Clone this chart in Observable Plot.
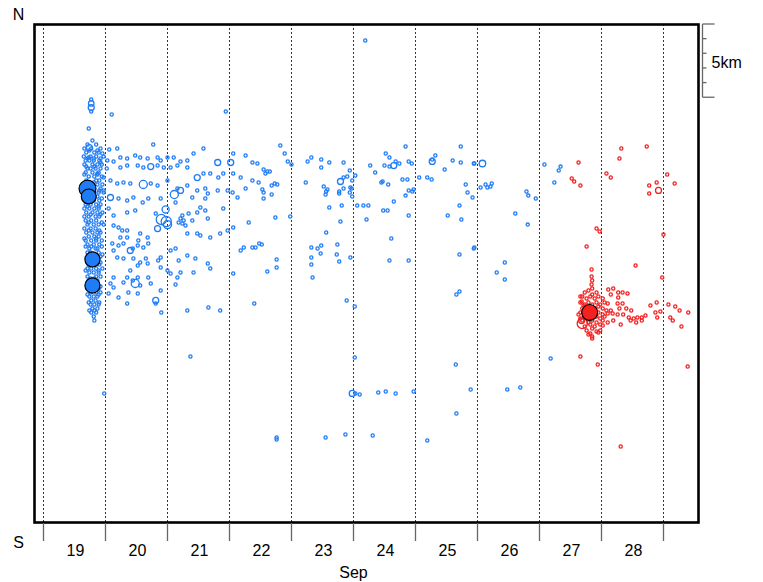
<!DOCTYPE html>
<html><head><meta charset="utf-8">
<script src="https://cdn.jsdelivr.net/npm/d3@7"></script>
<script src="https://cdn.jsdelivr.net/npm/@observablehq/plot@0.6"></script>
<style>body{margin:0;background:#fff;} svg{display:block}</style>
</head><body><div id="chart"></div>
<script>
// x: day of September (fractional), y: km north of the southern edge of the section
const days = [19, 20, 21, 22, 23, 24, 25, 26, 27, 28];
const dayLines = [19, 20, 21, 22, 23, 24, 25, 26, 27, 28, 29];
const monthLabel = "Sep";
const scaleBarKm = [0, 1, 2, 3, 4, 5];
const scaleBarLabel = "5km";

const blueSep19 = [
[19.77,28.88],[19.77,28.06],[19.73,26.90],
[19.79,26.08],[19.71,25.81],[19.85,25.81],[19.66,25.53],[19.77,25.53],[19.92,25.53],
[19.69,25.26],[19.82,25.26],[19.89,25.26],[19.65,24.99],[19.76,24.99],[19.85,24.99],[19.97,24.99],
[19.68,24.71],[19.74,24.71],[19.81,24.71],[19.90,24.71],[19.66,24.44],[19.79,24.44],[19.87,24.44],[19.94,24.44],
[19.71,24.17],[19.76,24.17],[19.84,24.17],[19.92,24.17],[20.02,24.17],[19.68,23.90],[19.79,23.90],[19.89,23.90],
[19.73,23.62],[19.82,23.62],[19.94,23.62],[19.69,23.35],[19.85,23.35],[19.90,23.35],
[19.76,23.08],[19.87,23.08],[19.95,23.08],[19.81,22.80],[19.92,22.80],[19.82,22.53],[19.89,22.53],[19.97,22.53],
[19.79,22.26],[19.87,22.26],[19.71,21.98],[19.81,21.98],[19.90,21.98],
[19.68,21.71],[19.76,21.71],[19.85,21.71],[19.92,21.71],[19.66,21.44],[19.74,21.44],[19.82,21.44],[19.89,21.44],
[19.69,21.16],[19.79,21.16],[19.87,21.16],[19.95,21.16],[19.66,20.89],[19.73,20.89],[19.84,20.89],[19.90,20.89],
[19.68,20.62],[19.77,20.62],[19.85,20.62],[19.71,20.35],[19.81,20.35],[19.89,20.35],[19.97,20.35],
[19.66,20.07],[19.76,20.07],[19.84,20.07],[19.69,19.80],[19.79,19.80],[19.87,19.80],[19.92,19.80],
[19.73,19.53],[19.82,19.53],[19.89,19.53],[19.68,19.25],[19.77,19.25],[19.85,19.25],[19.94,19.25],
[19.71,18.98],[19.81,18.98],[19.90,18.98],[19.74,18.71],[19.84,18.71],[19.87,18.71],
[19.71,18.43],[19.76,18.43],[19.89,18.43],[19.74,18.16],[19.85,18.16],[19.92,18.16],
[19.71,17.89],[19.87,17.89],[19.73,17.61],[19.82,17.61],[19.90,17.61],
[19.71,17.34],[19.77,17.34],[19.85,17.34],[19.95,17.34],[19.74,17.07],[19.81,17.07],[19.89,17.07],
[19.71,16.80],[19.85,16.80],[19.92,16.80],[19.73,16.52],[19.87,16.52],[19.71,16.25],[19.87,16.25],
[19.74,15.98],[19.82,15.98],[19.89,15.98],[19.76,15.70],[19.85,15.70],[19.92,15.70],
[19.74,15.43],[19.81,15.43],[19.87,15.43],[19.77,15.16],[19.84,15.16],
[19.76,14.88],[19.82,14.88],[19.89,14.88],[19.79,14.61],[19.87,14.61],[19.77,14.34],[19.85,14.34],
[19.81,14.06],[19.82,13.79],
[19.74,25.40],[19.87,25.40],[19.71,24.85],[19.92,24.85],[19.69,24.30],[19.82,24.30],[19.66,23.76],[19.87,23.76],
[19.73,23.21],[19.81,23.21],[19.90,22.67],[19.97,22.67],[19.74,22.12],[19.94,22.12],[19.71,21.57],[19.89,21.57],
[19.76,21.03],[19.92,21.03],[19.73,20.48],[19.94,20.48],[19.73,19.94],[19.90,19.94],[19.66,19.39],[19.85,19.39],
[19.68,18.84],[19.77,18.84],[19.94,18.84],[19.82,18.30],[19.95,18.30],[19.77,17.75],[19.92,17.75],
[19.68,17.20],[19.89,17.20],[19.76,16.66],[19.82,16.66],[19.79,16.11],[19.92,16.11],
[19.71,15.57],[19.89,15.57],[19.73,15.02],[19.90,15.02],[19.74,14.47],[19.82,14.47]
];

const blueSep20to22 = [
[20.10,27.86],[21.94,28.06],[20.77,25.81],
[19.73,24.92],[19.81,24.85],[19.95,25.19],[20.06,25.47],[20.19,25.53],[19.92,24.58],[20.03,24.71],[20.13,24.65],
[20.24,24.92],[20.35,24.85],[20.48,25.06],[20.56,24.92],[20.68,24.85],[20.84,24.92],[20.89,24.71],
[21.00,24.92],[21.10,24.92],[21.21,24.65],[21.32,24.71],[21.42,25.19],[21.58,25.53],[22.06,25.19],[22.26,25.06],
[22.37,24.58],[22.45,24.51],[20.24,24.24],[20.35,24.37],[20.52,24.37],[20.61,24.24],[20.84,24.37],[20.94,24.24],
[21.05,24.24],[21.16,24.37],[21.32,24.24],[21.58,23.83],[21.69,23.83],[21.82,23.55],[21.90,23.83],[22.06,23.83],
[22.18,23.55],[22.37,23.35],[22.47,23.21],[19.87,23.83],[19.97,23.55],[20.08,23.35],[20.19,23.14],[20.29,23.21],
[20.40,23.14],[20.73,23.14],[20.84,23.01],[21.00,23.35],[21.16,22.80],[21.32,23.01],[21.48,22.67],[21.61,22.80],
[21.65,22.46],[21.81,22.67],[21.97,22.67],[22.05,22.53],[22.13,22.19],[22.26,22.80],
[20.21,22.12],[20.35,21.98],[20.45,22.19],[20.60,21.85],[20.69,22.12],[20.89,22.12],[21.13,21.85],[21.40,22.19],
[21.61,22.12],[21.90,21.44],[20.05,21.44],[20.13,20.96],[20.35,21.16],[20.48,21.30],[20.81,21.10],
[21.24,20.96],[21.21,20.75],[21.26,20.62],[21.24,20.41],[21.29,20.28],[21.18,20.48],[21.34,21.10],[21.40,20.62],
[21.48,21.16],[21.53,21.51],[21.65,20.75],[21.61,21.30],[20.13,20.28],[20.21,20.14],[20.27,19.94],[20.35,19.94],
[20.24,19.46],[20.35,19.46],[20.56,19.73],[20.68,19.46],[20.53,19.25],[21.32,19.73],[21.48,19.73],[21.53,19.59],
[21.69,19.46],[21.85,19.73],[21.97,19.94],[22.06,20.14],[22.31,20.48],[22.37,18.77],[22.23,18.77],[22.40,14.95],
[20.11,19.05],[20.21,18.91],[20.29,19.05],[20.44,18.71],[20.52,18.91],[20.61,18.77],[20.69,19.05],[20.13,18.57],
[20.19,18.09],[20.29,18.02],[20.45,18.02],[20.56,17.75],[20.65,18.02],[20.85,17.89],[20.89,18.09],[21.05,18.57],
[21.13,18.71],[21.18,17.89],[21.32,18.23],[21.45,18.02],[21.65,17.68],[21.69,17.34],[21.42,17.07],[21.16,16.73],
[21.21,17.07],[21.00,17.20],[21.05,17.00],[20.89,17.41],[20.68,17.68],[20.52,17.55],[20.40,17.20],[20.35,16.73],
[20.29,16.39],[20.52,16.73],[20.44,16.52],[20.69,16.73],[20.73,16.32],[20.56,16.18],[20.89,15.84],[20.52,15.63],
[20.37,15.70],[20.13,16.73],[20.08,16.32],[20.13,16.04],[20.05,15.63],[20.21,15.36],[20.35,14.95],[20.81,14.95],
[20.90,14.34],[21.13,16.25],[21.32,14.47],[21.66,14.68],[21.85,14.47],[22.06,17.00],[22.18,18.57],[22.42,18.77],
[22.48,19.05]
];

const blueSep22to27 = [
[22.82,25.74],[22.89,25.19],[22.94,24.65],[23.00,24.44],[22.55,24.10],[22.58,23.83],[22.61,23.96],[22.65,23.96],
[22.53,22.73],[22.55,22.53],[22.55,22.12],[22.68,23.01],[22.68,22.39],[22.73,23.14],[22.77,23.08],[22.74,20.82],
[22.98,20.89],[22.52,18.98],[22.76,17.96],[22.76,17.41],[22.61,17.14],[23.23,23.21],[23.26,24.65],[23.32,24.92],
[23.48,24.78],[23.48,24.24],[23.61,24.58],[23.84,24.58],[23.52,22.94],[23.58,22.73],[23.56,22.60],[23.55,22.39],
[23.77,22.60],[23.77,22.46],[23.84,22.80],[23.94,22.53],[23.95,22.87],[23.61,21.51],[23.81,21.64],[23.79,20.55],
[23.56,19.80],[23.32,18.77],[23.42,18.71],[23.48,18.91],[23.47,18.37],[23.32,18.09],[23.32,17.61],[23.34,16.73],
[23.74,18.98],[23.73,18.30],[23.77,17.82],[23.95,18.09],[23.89,15.16],[24.02,14.75],[23.84,23.55],[23.90,23.62],
[23.94,24.03],[23.98,23.35],[23.97,22.80],[23.98,22.26],[24.03,23.69],[24.06,21.64],[24.16,21.64],[24.24,21.64],
[24.21,20.69],[24.27,24.37],[24.35,23.90],[24.52,25.19],[24.58,24.92],[24.58,24.30],[24.50,24.37],[24.68,24.65],
[24.74,24.51],[24.84,25.67],[24.89,24.65],[24.94,24.51],[24.45,23.21],[24.47,23.28],[24.56,23.08],[24.79,23.42],
[24.87,23.42],[24.89,22.67],[24.95,22.60],[24.97,22.73],[24.84,22.32],[24.65,21.92],[24.48,21.30],[24.55,21.30],
[24.89,20.96],[24.61,19.39],[24.58,17.89],[24.89,17.89],[25.06,23.55],[25.19,23.55],[25.26,23.42],[25.27,24.78],
[25.32,25.06],[25.47,24.10],[25.60,24.71],[25.73,25.67],[25.73,24.58],[25.94,24.51],[25.95,24.51],[25.81,23.08],
[25.84,22.53],[25.92,22.19],[26.05,22.87],[26.13,23.08],[26.16,22.87],[26.21,22.94],[26.23,23.14],[25.52,20.96],
[25.71,21.64],[25.74,20.69],[25.71,18.30],[25.94,18.71],[25.95,18.77],[25.66,15.57],[25.71,15.77],[26.31,17.07],
[26.44,17.75],[26.44,16.59],[26.61,21.10],[26.79,22.60],[26.82,22.32],[26.94,22.12],[26.81,20.34],[27.08,24.44],
[27.24,23.21],[27.31,24.03],[27.34,24.30],[24.19,32.91]
];

const blueSouth = [
[22.76,5.80],[22.76,5.67],[23.55,5.80],[23.87,6.01],[24.31,5.94],[24.02,11.26],[24.03,8.81],[24.10,8.74],
[24.40,8.88],[24.52,8.94],[24.68,8.81],[24.97,8.94],[25.19,5.60],[25.65,10.79],[25.89,9.08],[25.66,7.44],
[26.48,9.08],[26.69,9.22],[27.18,11.20],[19.98,8.81],[21.37,11.33]
];

const blueRings = [
[19.77,28.61,2.9],[19.77,28.33,3.0],[19.74,25.60,3.0],[20.61,23.08,3.4],[21.11,22.39,3.4],[20.90,20.69,3.8],
[20.98,20.55,3.8],[21.00,20.34,3.4],[20.97,21.37,3.2],[20.48,16.32,3.4],[20.40,18.57,3.0],[20.81,15.16,3.0],
[20.84,20.07,3.0],[21.81,24.58,3.0],[22.02,24.58,3.0],[21.48,23.55,3.0],[21.21,22.67,3.0],[20.73,24.30,3.0],
[20.08,22.19,3.0],[23.79,23.28,3.0],[24.65,24.37,3.0],[25.27,24.65,3.0],[26.08,24.51,3.1],[23.98,8.81,3.0]
];
const blueLarge = [[19.71,22.80,5.1],[19.73,22.26,4.7],[19.79,17.96,4.75],[19.79,16.18,4.75]];

const redCluster = [
[27.84,17.27],[27.84,16.80],[27.85,16.52],[27.84,16.25],[27.85,15.98],
[27.73,15.70],[27.79,15.84],[27.85,15.57],[27.92,15.70],[27.69,15.43],[27.76,15.29],[27.82,15.43],[27.89,15.29],
[27.95,15.43],[28.02,15.29],[27.66,15.02],[27.73,14.88],[27.79,15.02],[27.85,14.88],[27.92,15.02],[27.98,14.88],
[28.05,15.02],[27.69,14.61],[27.76,14.75],[27.89,14.61],[27.95,14.75],[28.02,14.61],[27.66,14.34],[27.95,14.34],
[28.02,14.20],[28.08,14.47],[27.73,14.06],[27.92,14.06],[27.98,13.93],[28.05,14.06],[27.69,13.79],[27.79,13.65],
[27.85,13.79],[27.92,13.65],[28.02,13.79],[27.73,13.38],[27.82,13.52],[27.89,13.38],[27.98,13.52],[27.76,13.11],
[27.85,13.24],[27.92,13.04],[27.79,12.83],[27.85,12.70],[27.95,12.97],[27.85,12.56],[27.68,15.09],[27.71,14.82],
[27.66,13.93],[27.66,15.43],[27.63,14.20],[27.98,13.11],[27.82,12.90],[28.02,13.45]
];
const redTrail = [
[28.11,15.91],[28.19,15.98],[28.15,15.57],[28.27,15.70],[28.34,15.70],[28.42,15.63],[28.27,15.36],[28.10,14.95],
[28.26,14.95],[28.34,14.95],[28.29,14.61],[28.40,14.61],[28.48,14.47],[28.15,14.47],[28.10,14.27],[28.18,14.27],
[28.26,14.20],[28.35,14.20],[28.44,14.00],[28.52,13.93],[28.58,14.00],[28.65,14.00],[28.71,14.13],[28.47,13.79],
[28.56,13.65],[28.65,13.79],[28.31,13.52],[28.19,13.79],[28.10,13.65],[28.79,14.82],[28.89,15.02],[28.87,14.34],
[28.95,14.41],[28.90,14.00],[29.08,14.88],[29.19,14.75],[29.26,14.47],[29.40,14.34],[29.11,14.00],[29.15,13.79],
[29.29,13.38],[28.98,16.73],[28.55,17.55]
];
const redScatter = [
[27.66,11.33],[27.94,10.79],[29.39,10.65],[28.31,5.19],
[27.63,24.58],[27.52,23.49],[27.56,23.28],[27.66,23.01],[28.32,25.53],[28.29,24.85],[28.08,23.83],[28.15,23.55],
[28.73,25.67],[29.06,23.76],[29.18,23.14],[28.89,23.21],[28.77,23.01],[28.77,22.46],[27.92,20.07],[27.97,19.87],
[27.76,18.84],[29.00,19.66]
];
const redRings = [[27.69,13.59,3.8],[27.68,13.79,3.0],[28.92,22.67,3.0]];
const redLarge = [[27.81,14.34,4.9]];

const blue = "#1f7cf5", red = "#f52020";
const xDomain = [18.855, 29.565];
const yDomain = [0, 34];
const xy = {x: d => d[0], y: d => d[1]};
const small = (data, c) => Plot.dot(data, {...xy, r: 1.6, stroke: c, fill: "none", strokeWidth: 1.3});

const plot = Plot.plot({
  width: 763, height: 582,
  marginLeft: 34, marginRight: 65, marginTop: 24, marginBottom: 60,
  x: {domain: xDomain, axis: null},
  y: {domain: yDomain, axis: null},
  r: {type: "linear", domain: [3, 5.3], range: [3, 9]},
  style: {fontFamily: "'Liberation Sans', Arial, sans-serif", fontSize: "16px", background: "white", color: "black"},
  marks: [
    Plot.ruleX(dayLines, {x: d => d, stroke: "#333", strokeDasharray: "2,2", strokeWidth: 1}),
    small(blueSep19, blue), small(blueSep20to22, blue), small(blueSep22to27, blue), small(blueSouth, blue),
    small(redCluster, red), small(redTrail, red), small(redScatter, red),
    Plot.dot(blueRings, {...xy, r: d => d[2], stroke: blue, fill: "none", strokeWidth: 1.3}),
    Plot.dot(redRings, {...xy, r: d => d[2], stroke: red, fill: "none", strokeWidth: 1.3}),
    Plot.dot(blueLarge, {...xy, r: d => d[2], fill: blue, stroke: "black", strokeWidth: 1.2}),
    Plot.dot(redLarge, {...xy, r: d => d[2], fill: red, stroke: "black", strokeWidth: 1.2}),
    Plot.frame({stroke: "black", strokeWidth: 2.6}),
    Plot.text(days, {x: d => d + 0.5, frameAnchor: "bottom", dy: 28, dx: 1, text: d => String(d), textAnchor: "middle", lineAnchor: "middle", fontSize: 16}),
    Plot.text([monthLabel], {x: () => (dayLines[0] + dayLines[dayLines.length - 1]) / 2, frameAnchor: "bottom", dy: 50, text: d => d, textAnchor: "middle", lineAnchor: "middle", fontSize: 16}),
    Plot.text(["N"], {frameAnchor: "top-left", dx: -16, dy: -10, text: d => d, textAnchor: "middle", lineAnchor: "middle", fontSize: 16}),
    Plot.text(["S"], {frameAnchor: "bottom-left", dx: -16, dy: 20, text: d => d, textAnchor: "middle", lineAnchor: "middle", fontSize: 16}),
    Plot.text([scaleBarLabel], {frameAnchor: "top-right", dx: 13, dy: 38, text: d => d, textAnchor: "start", lineAnchor: "middle", fontSize: 16})
  ]
});

// ticks below the frame and the scale bar, placed through the plot's own scales
const sx = plot.scale("x"), sy = plot.scale("y");
const svg = d3.select(plot);
const g = svg.append("g").attr("stroke", "#666").attr("stroke-width", 1.3).attr("fill", "none");
const yBottom = sy.apply(yDomain[0]) + 1;
for (const d of dayLines) {
  const px = Math.round(sx.apply(d)) + 0.5;
  g.append("line").attr("x1", px).attr("x2", px).attr("y1", yBottom).attr("y2", yBottom + 18);
}
const xBar = Math.round(sx.apply(xDomain[1])) + 4.5;
const kmTop = yDomain[1];
g.append("line").attr("x1", xBar).attr("x2", xBar)
  .attr("y1", sy.apply(kmTop)).attr("y2", sy.apply(kmTop - scaleBarKm[scaleBarKm.length - 1]));
for (const k of scaleBarKm) {
  const py = sy.apply(kmTop - k);
  const len = (k === 0 || k === scaleBarKm[scaleBarKm.length - 1]) ? 12 : 4;
  g.append("line").attr("x1", xBar).attr("x2", xBar + len).attr("y1", py).attr("y2", py);
}
document.getElementById("chart").appendChild(plot);
</script>
</body></html>
